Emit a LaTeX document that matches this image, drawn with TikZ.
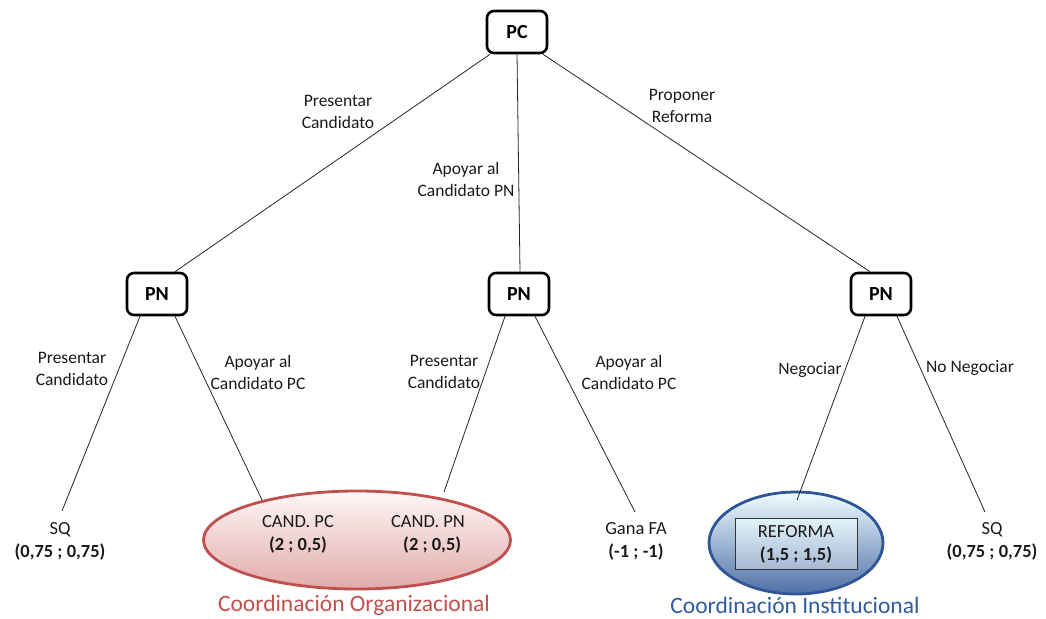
\documentclass[tikz,border=0pt]{standalone}
\usepackage{fontspec}
\setmainfont{Carlito}
\usetikzlibrary{shapes.geometric,calc}
\definecolor{redb}{HTML}{C0504D}
\definecolor{blueb}{HTML}{2F5597}
\definecolor{bluet}{HTML}{2E5C9E}
\definecolor{txt}{HTML}{1A1A1A}
\begin{document}
\begin{tikzpicture}[x=1pt,y=-1pt,
  player/.style={draw=black,line width=2.6pt,rounded corners=7pt,minimum width=60pt,minimum height=42pt,font=\fontsize{20}{22}\selectfont\bfseries,fill=white,inner sep=0pt},
  lbl/.style={align=center,font=\fontsize{17.5}{22}\selectfont,text=txt,inner sep=1pt},
  leaf/.style={align=center,font=\fontsize{18.5}{23}\selectfont,text=txt,inner sep=1pt},
  edge/.style={draw=black!85,line width=0.8pt}
]
\useasboundingbox (0,0) rectangle (1046,618);
% players
\node[player] (pc) at (517,32) {PC};
\node[player] (pnl) at (157,294) {PN};
\node[player] (pnm) at (519,294) {PN};
\node[player] (pnr) at (881,294) {PN};
% ellipses
\node[ellipse,draw=redb,line width=2.8pt,top color=red!3,bottom color=redb!48,minimum width=307pt,minimum height=98pt,inner sep=0pt] (eo) at (357,540) {};
\node[ellipse,draw=blueb,line width=2.8pt,top color=blue!8!cyan!6,bottom color=blueb!85!white,minimum width=174pt,minimum height=102pt,inner sep=0pt] (ei) at (796,543) {};
\node[draw=black!80,line width=0.8pt,top color=blue!8!cyan!8,bottom color=blueb!35!white,fill opacity=0.75,text opacity=1,minimum width=122pt,minimum height=51pt,align=center,font=\fontsize{18.5}{23}\selectfont,text=txt] (ref) at (796,544) {REFORMA\\\textbf{(1,5 ; 1,5)}};
% leaf texts
\node[leaf] (candpc) at (298,534) {CAND. PC\\\textbf{(2 ; 0,5)}};
\node[leaf] (candpn) at (428,534) {CAND. PN\\\ \ \textbf{(2 ; 0,5)}};
\node[leaf] (sql) at (60,541) {SQ\\\textbf{(0,75 ; 0,75)}};
\node[leaf] (fa) at (636,541) {Gana FA\\\textbf{(-1 ; -1)}};
\node[leaf] (sqr) at (992,541) {SQ\\\textbf{(0,75 ; 0,75)}};
\node[font=\fontsize{23.5}{26}\selectfont,text=redb] (co) at (354,605) {Coordinación Organizacional};
\node[font=\fontsize{23.5}{26}\selectfont,text=bluet] (ci) at (795,605) {Coordinación Institucional};
% edges
\coordinate (e1) at (62,511);
\coordinate (e2) at (262,500);
\coordinate (e3) at (444,492);
\coordinate (e4) at (635,512);
\coordinate (e5) at (797,500);
\coordinate (e6) at (985,512);
\draw[edge] ([xshift=-27pt]pc.south) -- ([xshift=18pt]pnl.north);
\draw[edge] (pc.south) -- ([xshift=1pt]pnm.north);
\draw[edge] ([xshift=26pt]pc.south) -- ([xshift=-11pt]pnr.north);
\draw[edge] ([xshift=-17pt]pnl.south) -- (e1);
\draw[edge] ([xshift=18pt]pnl.south) -- (e2);
\draw[edge] ([xshift=-14pt]pnm.south) -- (e3);
\draw[edge] ([xshift=16pt]pnm.south) -- (e4);
\draw[edge] ([xshift=-16pt]pnr.south) -- (e5);
\draw[edge] ([xshift=16pt]pnr.south) -- (e6);
% edge labels
\node[lbl] (l1) at (338,112) {Presentar\\Candidato};
\node[lbl] (l2) at (466,179) {Apoyar al\\Candidato PN};
\node[lbl] (l3) at (682,106) {Proponer\\Reforma};
\node[lbl] (l4) at (72,369) {Presentar\\Candidato};
\node[lbl] (l5) at (258,372) {Apoyar al\\Candidato PC};
\node[lbl] (l6) at (444,372) {Presentar\\Candidato};
\node[lbl] (l7) at (629,372) {Apoyar al\\Candidato PC};
\node[lbl] (l8) at (810,370) {Negociar};
\node[lbl] (l9) at (970,368) {No Negociar};
\end{tikzpicture}
\end{document}
